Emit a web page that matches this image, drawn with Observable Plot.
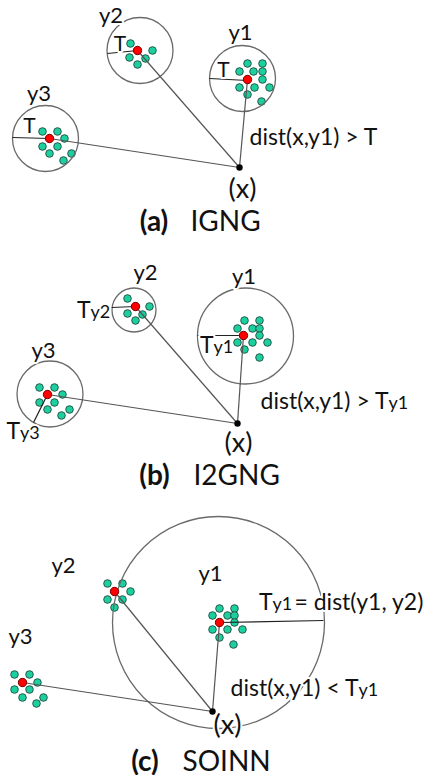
<!DOCTYPE html>
<html><head><meta charset="utf-8">
<script src="https://cdn.jsdelivr.net/npm/d3@7"></script>
<script src="https://cdn.jsdelivr.net/npm/@observablehq/plot@0.6"></script>
<style>body{margin:0;background:#fff}#chart svg{display:block}</style>
</head><body><div id="chart"></div>
<script>
// ---- data (pixel coordinates of the diagram) ----
// winner nodes (red), per panel: y1, y2, y3
const nodesA = [[247,79],[137,50],[49,138]];
const nodesB = [[243,335],[135,306],[47,394]];
const nodesC = [[219,622],[114,591],[22,682]];
// input sample x, per panel
const inputs = [[239,167],[237,423],[212,711]];
// threshold circles [cx, cy, radius]
const circlesA = [[242,78,33],[139.5,50,33],[45,138,33]];
const circlesB = [[245,335.5,48],[133.5,309.5,22],[49.5,393.5,33]];
const circlesC = [[218,622,106]];
// cluster members (green)
const greenA1 = [[247,63],[262,63],[239,71],[253,71],[262,71],[262,79],[239,87],[254,87],[269,87],[247,94],[261,101]];
const greenA2 = [[130,43],[152,50],[129,57],[145,58],[137,64]];
const greenA3 = [[42,131],[57,131],[64,138],[42,146],[57,146],[49,153],[71,153],[63,160]];
const greenB1 = [[244,320],[259,320],[237,328],[252,328],[259,328],[259,335],[237,342],[252,342],[267,342],[244,349],[259,357]];
const greenB2 = [[127,298],[149,306],[127,313],[142,314],[135,320]];
const greenB3 = [[39,387],[54,387],[62,394],[39,402],[54,402],[47,409],[69,409],[61,415]];
const greenC1 = [[219,608],[234,608],[212,615],[227,615],[234,615],[234,622],[212,629],[227,629],[242,629],[219,637],[233,644]];
const greenC2 = [[107,583],[122,583],[130,591],[107,599],[122,599],[114,607]];
const greenC3 = [[14,674],[29,674],[37,682],[14,689],[29,689],[22,697],[43,697],[36,703]];
// threshold radius segments [x1,y1,x2,y2]
const radii = [[107,53,137,50],[12,137,49,138],[209,78,247,80],[111,307,135,306],[197,335,243,335],[47,394,33,422],[219,622,323,620]];
// text: [label, x, baseline]
const nodeLabels = [["y2",110.5,22],["y1",240,39],["y3",38.5,100],["y2",145,279],["y1",243.5,283],["y3",43,357],["y2",63,572],["y1",210,580],["y3",20,643]];
const tLabels = [["T",119.5,50],["T",29,132],["T",223,76]];
const tMain = [["T",90,317],["T",213,352],["T",19.5,438],["dist(x,y1) > T",388,408],["T",272,609],["dist(x,y1) < T",358,695]];
const tSub = [["y2",90,317],["y1",213,352],["y3",19.5,438],["y1",388,408],["y1",272,609],["y1",358,695]];
const startLabels = [["dist(x,y1) > T",249,144],["= dist(y1, y2)",294,609]];
const xLabels = [["(x)",242,197],["(x)",238,451],["(x)",227,733]];
const titleKeys = [["(a)",153.5,230],["(b)",154,484],["(c)",144.5,770]];
const titleNames = [["IGNG",190,230],["I2GNG",193,484],["SOINN",182,770]];

// ---- build tables ----
const pts = a => a.map(([x,y]) => ({x,y}));
const circ = a => a.map(([x,y,r]) => ({x,y,r}));
const lbl = a => a.map(([t,x,y]) => ({t,x,y}));
const green = [greenA1,greenA2,greenA3,greenB1,greenB2,greenB3,greenC1,greenC2,greenC3].flatMap(pts);
const reds = [nodesA,nodesB,nodesC].flatMap(pts);
const circles = [circlesA,circlesB,circlesC].flatMap(circ);
const links = [nodesA,nodesB,nodesC].flatMap((ns,i) => ns.map(([x,y]) => ({x1:x,y1:y,x2:inputs[i][0],y2:inputs[i][1]})));
const radiusLinks = radii.map(([x1,y1,x2,y2]) => ({x1,y1,x2,y2}));

const FONT = "Lato, 'Open Sans', sans-serif";
const INK = "#111";
const halo = {stroke:"white", strokeWidth:4, fill:INK, lineAnchor:"bottom"};

const chart = Plot.plot({
  width:433, height:775, margin:0,
  x:{domain:[0,433], range:[0,433], axis:null},
  y:{domain:[0,775], range:[0,775], axis:null},
  r:{type:"identity"},
  style:{background:"white", fontFamily:FONT},
  marks:[
    Plot.dot(green, {x:"x", y:"y", r:3.8, fill:"#1ccf9f", stroke:"#24584a", strokeWidth:1}),
    Plot.dot(circles, {x:"x", y:"y", r:"r", fill:"none", stroke:"#6a6a6a", strokeWidth:1.3}),
    Plot.link(links, {x1:"x1", y1:"y1", x2:"x2", y2:"y2", stroke:"#555", strokeWidth:1.2}),
    Plot.link(radiusLinks, {x1:"x1", y1:"y1", x2:"x2", y2:"y2", stroke:"#222", strokeWidth:1.2}),
    Plot.dot(reds, {x:"x", y:"y", r:4.2, fill:"#ff0000", stroke:"#700", strokeWidth:1}),
    Plot.dot(pts(inputs), {x:"x", y:"y", r:3.2, fill:"#000"}),
    Plot.text(lbl(nodeLabels), {x:"x", y:"y", text:"t", fontSize:22, textAnchor:"middle", ...halo}),
    Plot.text(lbl(tLabels), {x:"x", y:"y", text:"t", fontSize:21, textAnchor:"middle", ...halo}),
    Plot.text(lbl(tMain), {x:"x", y:"y", text:"t", fontSize:23, textAnchor:"end", ...halo}),
    Plot.text(lbl(tSub), {x:"x", y:"y", text:"t", fontSize:18, textAnchor:"start", ...halo}),
    Plot.text(lbl(startLabels), {x:"x", y:"y", text:"t", fontSize:23, textAnchor:"start", ...halo}),
    Plot.text(lbl(xLabels), {x:"x", y:"y", text:"t", fontSize:27, textAnchor:"middle", ...halo}),
    Plot.text(lbl(titleKeys), {x:"x", y:"y", text:"t", fontSize:28, fontWeight:"bold", textAnchor:"middle", ...halo}),
    Plot.text(lbl(titleNames), {x:"x", y:"y", text:"t", fontSize:28, textAnchor:"start", ...halo})
  ]
});
document.getElementById("chart").append(chart);
</script></body></html>
